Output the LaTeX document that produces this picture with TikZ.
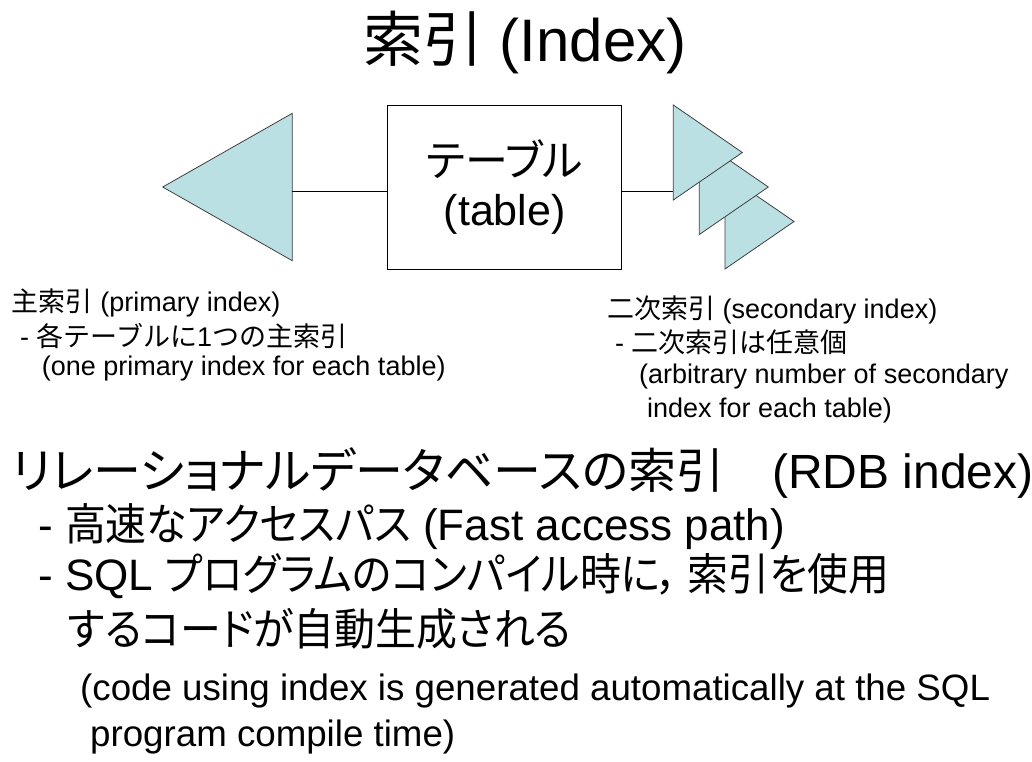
\documentclass[tikz,border=0pt]{standalone}
\usepackage{fontspec}
\setmainfont{Liberation Sans}
\newfontfamily\jp[RawFeature=+palt]{Noto Sans CJK JP}
\newfontfamily\jpn[RawFeature=+palt,FakeStretch=0.93]{Noto Sans CJK JP}
\newfontfamily\jpf{Noto Sans CJK JP}
\definecolor{trifill}{RGB}{187,224,227}
\newcommand{\titlesize}{\fontsize{60}{72}\selectfont}
\newcommand{\headsize}{\fontsize{48}{56}\selectfont}
\newcommand{\bigsize}{\fontsize{44}{52}\selectfont}
\newcommand{\midsize}{\fontsize{36.7}{43}\selectfont}
\newcommand{\smallsize}{\fontsize{27}{32}\selectfont}
\begin{document}
\begin{tikzpicture}[x=1pt,y=-1pt,
	tri/.style={fill=trifill,draw=black!75,line width=0.8pt,line join=miter},
	txt/.style={anchor=base west,inner sep=0pt},
	link/.style={line width=1pt}]
		\useasboundingbox[fill=white] (0,0) rectangle (1032,761);
		
		\node[anchor=base,inner sep=0pt] (ttl) at (525,61) {\titlesize{\jp 索引} (Index)};
		
		\node[draw,line width=1pt,minimum width=234,minimum height=164,align=center,inner sep=0pt,
			font=\fontsize{43}{49}\selectfont] (tbl) at (504.7,187) {{\jp テーブル}\\(table)};
		
		\filldraw[tri] (292.3,113.3) -- (162.7,187) -- (292.3,260.7) -- cycle;
		\coordinate (pedge) at (292.3,191.7);
		
		\filldraw[tri] (725,174) -- (794,221.5) -- (725,269) -- cycle;
		\filldraw[tri] (699.3,139.5) -- (768.3,187) -- (699.3,234.5) -- cycle;
		\filldraw[tri] (673.3,105) -- (742.3,152.5) -- (673.3,200) -- cycle;
		\coordinate (sedge) at (673.3,191.7);
		
		\draw[link] (pedge) -- (pedge -| tbl.west);
		\draw[link] (sedge -| tbl.east) -- (sedge);
		
		\node[txt] (pri1) at (11.7,311) {\smallsize{\jpf 主索引} (primary index)};
		\node[txt] (pri2) at (20,346) {\smallsize - {\jpf 各テーブルに}1{\jpf つの主索引}};
		\node[txt] (pri3) at (41.7,375) {\smallsize (one primary index for each table)};
		
		\node[txt] (sec1) at (607,318) {\smallsize{\jpf 二次索引} (secondary index)};
		\node[txt] (sec2) at (615,352) {\smallsize - {\jpf 二次索引は任意個}};
		\node[txt] (sec3) at (639,383) {\smallsize (arbitrary number of secondary};
		\node[txt] (sec4) at (647,417) {\smallsize index for each table)};
		
		\node[txt] (rdb) at (12,488) {\headsize{\jp リレーショナルデータベースの索引　}(RDB index)};
		\node[txt] (fast) at (38,540) {\bigsize - {\jpn 高速なアクセスパス} (Fast access path)};
		\node[txt] (sql1) at (38,590) {\bigsize - SQL {\jpn プログラムのコンパイル時に，\ 索引を使用}};
		\node[txt] (sql2) at (68,645) {\bigsize{\jpn するコードが自動生成される}};
		\node[txt] (code1) at (80,700) {\midsize (code using index is generated automatically at the SQL};
		\node[txt] (code2) at (90,746) {\midsize program compile time)};
	\end{tikzpicture}
\end{document}
